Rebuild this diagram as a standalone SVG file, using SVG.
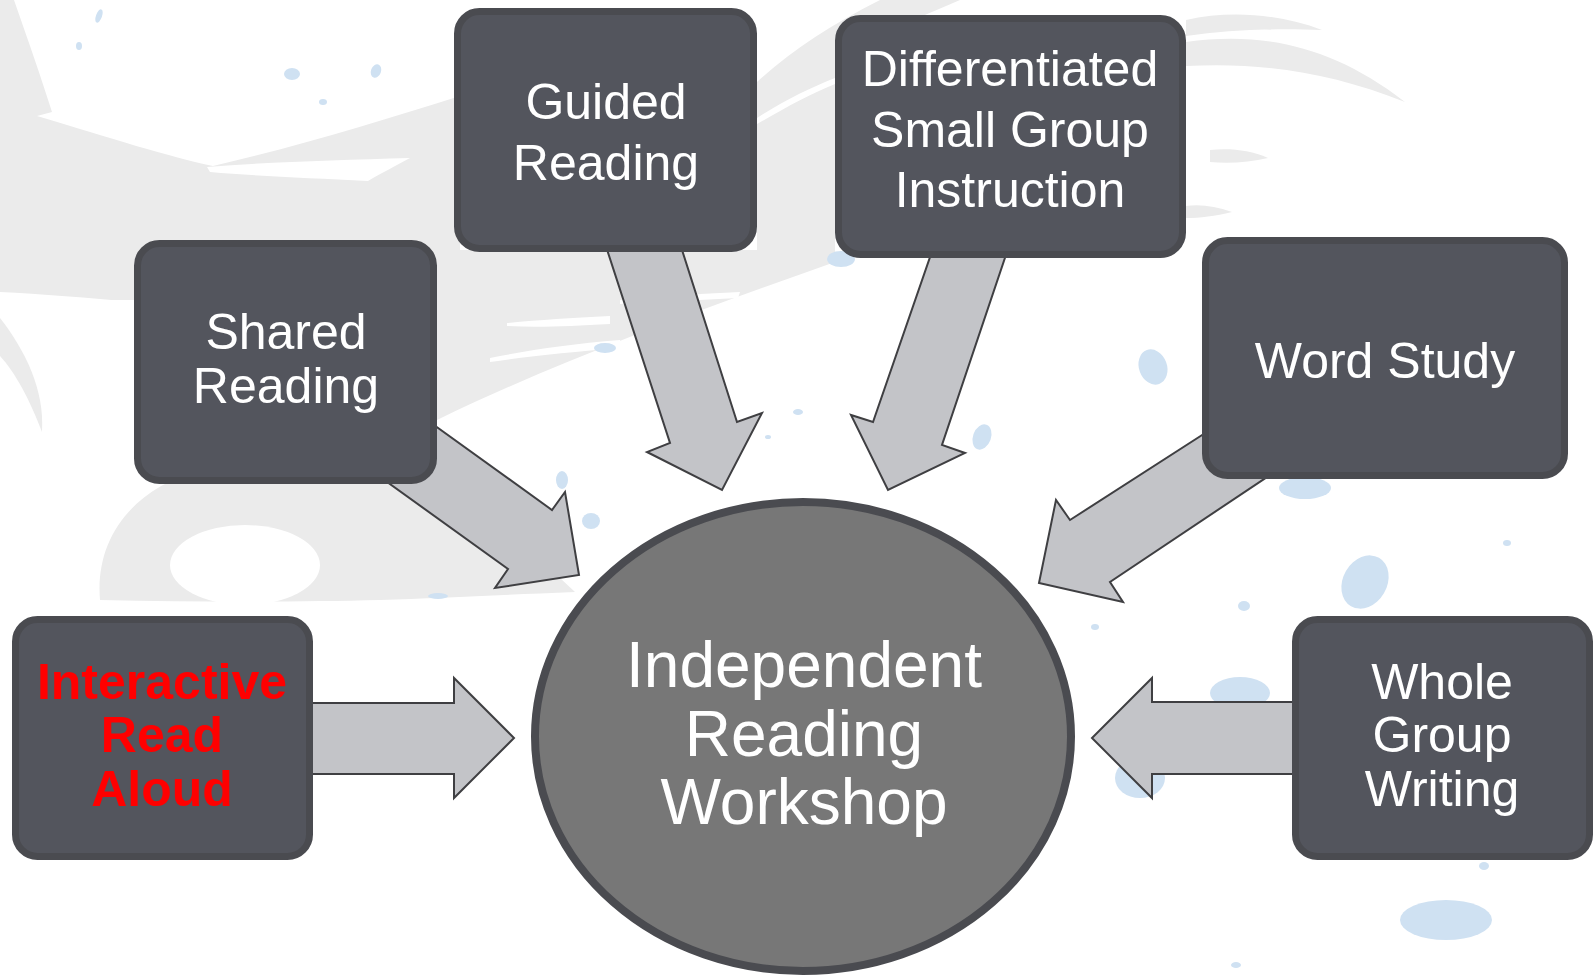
<svg xmlns="http://www.w3.org/2000/svg" width="1595" height="977" viewBox="0 0 1595 977">
<style>
.bg{fill:#ebebeb}
.wh{fill:#ffffff}
.dot{fill:#cfe1f2}
.box{fill:#53555d;stroke:#4a4b50;stroke-width:7}
.arr{fill:#c3c4c8;stroke:#3f3f42;stroke-width:2;stroke-linejoin:miter}
.t{font-family:"Liberation Sans",Arial,sans-serif;font-size:50px;fill:#ffffff;text-anchor:middle}
.red{fill:#ff0000;font-weight:bold}
.big{font-size:64px}
</style>
<rect width="1595" height="977" fill="#ffffff"/>
<g id="background">
  <path class="bg" d="M0,0 L14,0 C28,40 42,80 52,112 L37,116 C110,138 170,157 213,166 C300,146 380,121 460,96 L460,250 L757,250 L835,238 L835,262 C700,310 560,360 437,420 L437,300 L134,300 L0,300 Z"/>
  <path class="wh" d="M207,167 C270,162 340,160 410,158 C395,166 380,174 368,181 C310,178 255,176 210,172 Z"/>
  <path class="wh" d="M0,292 C40,294 90,298 134,302 L134,312 C90,310 40,314 0,318 Z"/>
  <path class="bg" d="M0,318 C25,350 45,390 42,432 C30,400 15,372 0,356 Z"/>
  <path class="bg" d="M100,600 C95,540 130,490 200,470 L400,470 C470,500 520,540 575,592 C500,595 440,598 380,600 C300,602 200,602 100,600 Z"/>
  <ellipse class="wh" cx="245" cy="565" rx="75" ry="40"/>
  <path class="wh" d="M507,323 C540,320 570,318 610,316 L610,324 C570,326 540,328 507,326 Z"/>
  <path class="wh" d="M490,358 C530,350 570,344 620,340 L622,348 C570,352 530,356 490,362 Z"/>
  <path class="wh" d="M620,300 C660,296 700,294 740,292 L738,298 C700,300 660,302 620,304 Z"/>
  <path class="bg" d="M757,82 C790,52 830,25 880,0 L960,0 C900,25 860,45 835,62 L835,250 L757,250 Z"/>
  <path class="wh" d="M757,118 C785,100 810,88 835,78 L835,84 C810,94 785,108 757,124 Z"/>
  <path class="bg" d="M1186,42 C1260,32 1330,44 1405,102 C1330,72 1260,62 1186,66 Z"/>
  <path class="bg" d="M1186,20 C1230,10 1280,14 1322,30 C1272,28 1230,30 1186,36 Z"/>
  <path class="bg" d="M1210,150 C1230,148 1250,150 1268,158 C1250,162 1230,164 1210,162 Z"/>
  <path class="bg" d="M1186,206 C1200,204 1215,206 1232,212 C1215,216 1200,218 1186,218 Z"/>
  <ellipse class="dot" cx="99" cy="16" rx="3" ry="7" transform="rotate(20 99 16)"/>
  <ellipse class="dot" cx="79" cy="46" rx="3" ry="4"/>
  <ellipse class="dot" cx="292" cy="74" rx="8" ry="6"/>
  <ellipse class="dot" cx="323" cy="102" rx="4" ry="3"/>
  <ellipse class="dot" cx="376" cy="71" rx="5" ry="7" transform="rotate(20 376 71)"/>
  <ellipse class="dot" cx="841" cy="259" rx="14" ry="8"/>
  <ellipse class="dot" cx="605" cy="348" rx="11" ry="5"/>
  <ellipse class="dot" cx="798" cy="412" rx="5" ry="3"/>
  <ellipse class="dot" cx="768" cy="437" rx="3" ry="2"/>
  <ellipse class="dot" cx="982" cy="437" rx="9" ry="13" transform="rotate(20 982 437)"/>
  <ellipse class="dot" cx="1153" cy="367" rx="14" ry="18" transform="rotate(-20 1153 367)"/>
  <ellipse class="dot" cx="562" cy="480" rx="6" ry="9"/>
  <ellipse class="dot" cx="591" cy="521" rx="9" ry="8"/>
  <ellipse class="dot" cx="1305" cy="488" rx="26" ry="11"/>
  <ellipse class="dot" cx="1365" cy="582" rx="22" ry="28" transform="rotate(30 1365 582)"/>
  <ellipse class="dot" cx="1244" cy="606" rx="6" ry="5"/>
  <ellipse class="dot" cx="1095" cy="627" rx="4" ry="3"/>
  <ellipse class="dot" cx="1240" cy="693" rx="30" ry="16"/>
  <ellipse class="dot" cx="1140" cy="778" rx="25" ry="20"/>
  <ellipse class="dot" cx="1446" cy="920" rx="46" ry="20"/>
  <ellipse class="dot" cx="1484" cy="866" rx="5" ry="4"/>
  <ellipse class="dot" cx="1507" cy="543" rx="4" ry="3"/>
  <ellipse class="dot" cx="438" cy="596" rx="10" ry="3"/>
  <ellipse class="dot" cx="1236" cy="965" rx="5" ry="3"/>
</g>
<g id="connectors">
  <polygon class="arr" points="300,703 454,703 454,678 514,738 454,798 454,774 300,774"/>
  <polygon class="arr" points="402,402 552,510 565,492 579,575 495,588 508,569 358,461"/>
  <polygon class="arr" points="600,228 670,443 647,452 722,490 762,413 737,422 675,228"/>
  <polygon class="arr" points="938,234 873,422 851,415 888,490 965,453 942,445 1013,234"/>
  <polygon class="arr" points="1227,419 1070,520 1056,500 1039,583 1123,602 1110,582 1288,463"/>
  <polygon class="arr" points="1300,702 1152,702 1152,678 1092,738 1152,798 1152,774 1300,774"/>
</g>
<g id="node-interactive">
  <rect class="box" x="15.5" y="619.5" width="294" height="237" rx="22"/>
  <text class="t red" x="162" y="699">Interactive</text>
  <text class="t red" x="162" y="752">Read</text>
  <text class="t red" x="162" y="806">Aloud</text>
</g>
<g id="node-shared">
  <rect class="box" x="137.5" y="243.5" width="296" height="237" rx="22"/>
  <text class="t" x="286" y="349">Shared</text>
  <text class="t" x="286" y="403">Reading</text>
</g>
<g id="node-guided">
  <rect class="box" x="457.5" y="11.5" width="296" height="237" rx="22"/>
  <text class="t" x="606" y="119">Guided</text>
  <text class="t" x="606" y="180">Reading</text>
</g>
<g id="node-differentiated">
  <rect class="box" x="838.5" y="18.5" width="344" height="236" rx="22"/>
  <text class="t" x="1010" y="86">Differentiated</text>
  <text class="t" x="1010" y="147">Small Group</text>
  <text class="t" x="1010" y="207">Instruction</text>
</g>
<g id="node-wordstudy">
  <rect class="box" x="1205.5" y="240.5" width="359" height="235" rx="22"/>
  <text class="t" x="1385" y="378">Word Study</text>
</g>
<g id="node-whole">
  <rect class="box" x="1295.5" y="619.5" width="294" height="237" rx="22"/>
  <text class="t" x="1442" y="699">Whole</text>
  <text class="t" x="1442" y="752">Group</text>
  <text class="t" x="1442" y="806">Writing</text>
</g>
<g id="node-center">
  <ellipse cx="803" cy="736.5" rx="268" ry="234.5" fill="#777777" stroke="#4a4b50" stroke-width="8"/>
  <text class="t big" x="804" y="687">Independent</text>
  <text class="t big" x="804" y="756">Reading</text>
  <text class="t big" x="804" y="824">Workshop</text>
</g>
</svg>
